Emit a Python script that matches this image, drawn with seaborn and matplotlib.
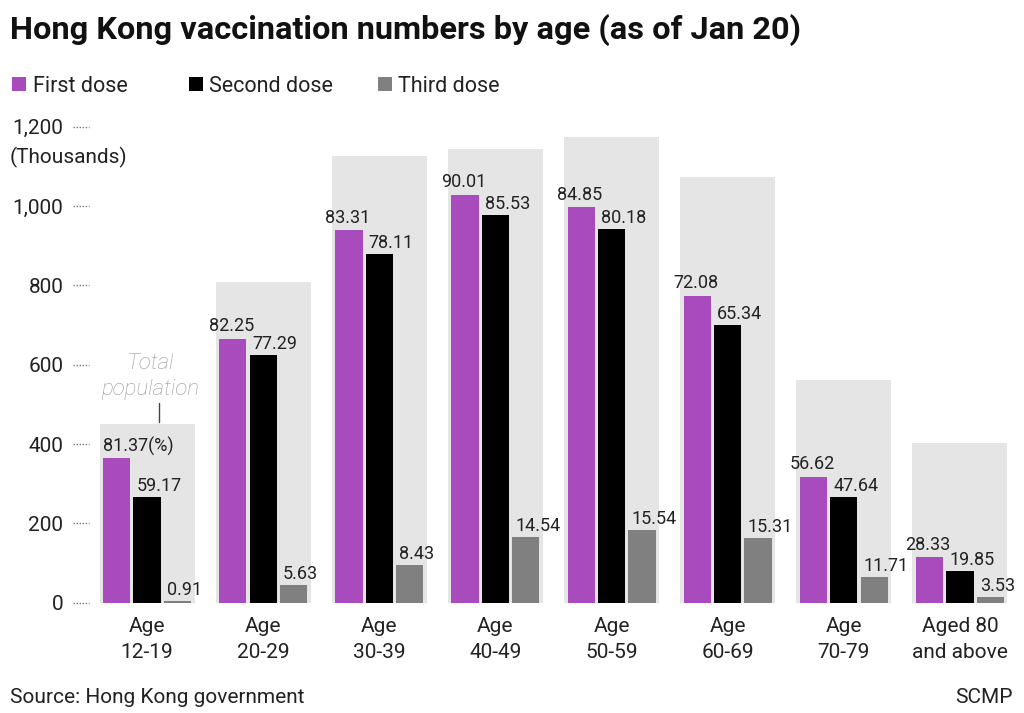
import matplotlib
matplotlib.use("Agg")
import matplotlib.pyplot as plt
import matplotlib.transforms as mtransforms
from matplotlib.patches import Rectangle
import seaborn as sns
import pandas as pd

# ---------------- data (thousands) ----------------
groups = ["Age\n12-19", "Age\n20-29", "Age\n30-39", "Age\n40-49",
          "Age\n50-59", "Age\n60-69", "Age\n70-79", "Aged 80\nand above"]
total_pop = [450, 808, 1127, 1144, 1175, 1073, 561, 402]
first_dose = [366, 665, 939, 1029, 997, 773, 318, 114]
second_dose = [266, 625, 880, 978, 942, 701, 267, 80]
third_dose = [4.1, 45.5, 95, 166, 183, 164, 66, 14.2]
first_pct = ["81.37(%)", "82.25", "83.31", "90.01", "84.85", "72.08", "56.62", "28.33"]
second_pct = ["59.17", "77.29", "78.11", "85.53", "80.18", "65.34", "47.64", "19.85"]
third_pct = ["0.91", "5.63", "8.43", "14.54", "15.54", "15.31", "11.71", "3.53"]
dose_names = ["First dose", "Second dose", "Third dose"]
y_ticks = [0, 200, 400, 600, 800, 1000, 1200]

colors = {"First dose": "#a84bbd", "Second dose": "#000000", "Third dose": "#808080"}
bg_color = "#e5e5e5"

sns.set_style("white")
plt.rcParams["font.family"] = ["Roboto", "DejaVu Sans"]
plt.rcParams["font.weight"] = "normal"

TXT = "#222222"
W, H = 1024, 713
fig = plt.figure(figsize=(W / 100, H / 100), dpi=100)
ax_left, ax_right, ax_top, ax_bot = 95, 1010, 126.7, 602.7
ax = fig.add_axes([ax_left / W, 1 - ax_bot / H, (ax_right - ax_left) / W, (ax_bot - ax_top) / H])

def fx(x):
    return x / W

def fy(y):
    return 1 - y / H

# background total population bars
bg_df = pd.DataFrame({"group": groups, "total": total_pop})
sns.barplot(data=bg_df, x="group", y="total", order=groups, color=bg_color,
            width=0.818, errorbar=None, ax=ax, saturation=1, linewidth=0)

long_df = pd.DataFrame({
    "group": groups * 3,
    "dose": [dose_names[0]] * 8 + [dose_names[1]] * 8 + [dose_names[2]] * 8,
    "value": first_dose + second_dose + third_dose,
})
sns.barplot(data=long_df, x="group", y="value", hue="dose", order=groups,
            hue_order=dose_names, palette=colors, width=0.784, gap=0.1,
            errorbar=None, ax=ax, saturation=1, legend=False, linewidth=0)

ax.set_xlim(-0.448, 7.431)
ax.set_ylim(0, 1200)
for s in ax.spines.values():
    s.set_visible(False)
ax.set_xlabel("")
ax.set_ylabel("")

ax.set_yticks(y_ticks)
ax.set_yticklabels([f"{v:,}" for v in y_ticks], fontsize=15, color=TXT)
ax.tick_params(axis="y", length=0, pad=22.8)
ax.set_xticks(range(len(groups)))
ax.set_xticklabels(groups, fontsize=15, color=TXT, linespacing=1.5)
ax.tick_params(axis="x", length=0, pad=10)

blend = mtransforms.blended_transform_factory(ax.transAxes, ax.transData)
for v in y_ticks:
    ax.plot([-0.024, -0.0066], [v, v], transform=blend, clip_on=False,
            color="#777777", lw=1, ls=(0, (1, 1.2)))

# value labels
LFS = 13
conts = ax.containers[1:]
lab_sets = [first_pct, second_pct, third_pct]
for ci, (cont, labs) in enumerate(zip(conts, lab_sets)):
    for i, (bar, lab) in enumerate(zip(cont, labs)):
        x0 = bar.get_x()
        w = bar.get_width()
        h = bar.get_height()
        if ci == 0:
            if i == 0:
                ax.annotate(lab, (x0, h), xytext=(0, 4.3), textcoords="offset points",
                            ha="left", va="baseline", fontsize=LFS, color=TXT)
            else:
                ax.annotate(lab, (x0 + w / 2, h), xytext=(-1.0, 5.5), textcoords="offset points",
                            ha="center", va="baseline", fontsize=LFS, color=TXT)
        else:
            ax.annotate(lab, (x0, h), xytext=(2.3, 4.3), textcoords="offset points",
                        ha="left", va="baseline", fontsize=LFS, color=TXT)

# Total population annotation
ax.text(0.03, 589, "Total", ha="center", va="baseline", fontsize=16,
        style="italic", fontweight="light", color="#999999")
ax.text(0.03, 524, "population", ha="center", va="baseline", fontsize=16,
        style="italic", fontweight="light", color="#999999")
ax.plot([0.10, 0.10], [456.5, 504], color="#444444", lw=1, clip_on=False)

# title
fig.text(fx(10), fy(39), "Hong Kong vaccination numbers by age (as of Jan 20)",
         ha="left", va="baseline", fontsize=23.4, fontweight="bold", color="#111111")

# legend
leg_items = [(12, 33, "First dose"), (189, 209, "Second dose"), (378, 398, "Third dose")]
for (sx, tx, name) in leg_items:
    fig.add_artist(Rectangle((fx(sx), fy(91)), 14 / W, 14 / H, transform=fig.transFigure,
                             color=colors[name], lw=0))
    fig.text(fx(tx), fy(91.7), name, ha="left", va="baseline", fontsize=15.5, color=TXT)

fig.text(fx(10), fy(157), "(Thousands)", ha="left", va="center", fontsize=15, color=TXT)

fig.text(fx(10), fy(703), "Source: Hong Kong government", ha="left", va="baseline",
         fontsize=15, color=TXT)
fig.text(fx(1013), fy(703), "SCMP", ha="right", va="baseline", fontsize=15, color=TXT)

fig.savefig("out.png", dpi=100, facecolor="white")
